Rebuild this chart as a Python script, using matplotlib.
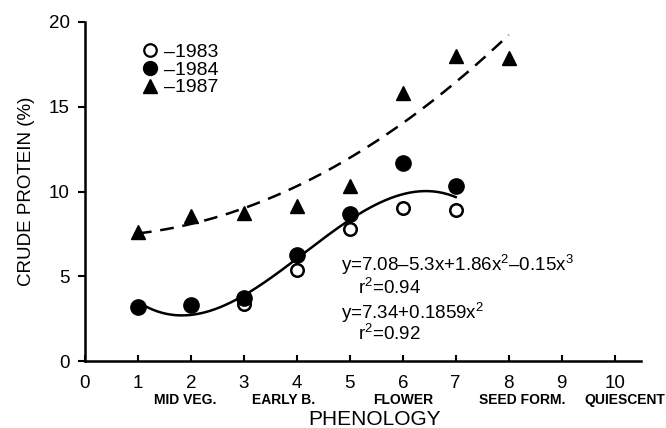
import numpy as np
import matplotlib
matplotlib.use("Agg")
import matplotlib.pyplot as plt
from matplotlib.lines import Line2D

plt.rcParams['font.family'] = ['Liberation Sans', 'DejaVu Sans']
plt.rcParams['mathtext.fontset'] = 'custom'
plt.rcParams['mathtext.rm'] = 'Liberation Sans'

# phenology stage (x) and crude protein (%) per year
x_1983 = [1, 2, 3, 4, 5, 6, 7]
cp_1983 = [3.2, 3.3, 3.35, 5.35, 7.8, 9.05, 8.9]
x_1984 = [1, 2, 3, 4, 5, 6, 7]
cp_1984 = [3.2, 3.3, 3.7, 6.25, 8.7, 11.7, 10.3]
x_1987 = [1, 2, 3, 4, 5, 6, 7, 8]
cp_1987 = [7.6, 8.55, 8.75, 9.15, 10.35, 15.8, 18.0, 17.9]

# fitted curves (coefficients printed on the chart)
cubic_coef = [7.08, -5.3, 1.86, -0.15]     # 1983/1984, x = 1..7
quad_coef = [7.34, 0.0, 0.1859]            # 1987, x = 1..8
cubic_range = (1, 7)
quad_range = (1, 8)

stage_pos = [1.9, 3.75, 6.0, 8.25, 10.2]
stage_names = ['MID VEG.', 'EARLY B.', 'FLOWER', 'SEED FORM.', 'QUIESCENT']

fig = plt.figure(figsize=(6.66, 4.28), dpi=100)
ax = fig.add_axes([0.1276, 0.1565, 0.835, 0.7921])

xc = np.linspace(*cubic_range, 200)
ax.plot(xc, np.polynomial.polynomial.polyval(xc, cubic_coef), color='black', lw=1.8)
xq = np.linspace(*quad_range, 200)
ax.plot(xq, np.polynomial.polynomial.polyval(xq, quad_coef), color='black', lw=1.8,
        dashes=(5.5, 3.5))

ax.plot(x_1987, cp_1987, '^', color='black', ms=9.5, ls='none')
ax.plot(x_1983, cp_1983, 'o', mfc='white', mec='black', mew=1.8, ms=9, ls='none')
ax.plot(x_1984, cp_1984, 'o', color='black', ms=11, ls='none')

handles = [
    Line2D([], [], marker='o', mfc='white', mec='black', mew=1.6, ms=9, ls='none'),
    Line2D([], [], marker='o', color='black', ms=10, ls='none'),
    Line2D([], [], marker='^', color='black', ms=10, ls='none'),
]
ax.legend(handles, ['\u20131983', '\u20131984', '\u20131987'], loc='upper left',
          bbox_to_anchor=(0.085, 0.965), frameon=False, fontsize=14,
          handlelength=0.8, handletextpad=0.35, labelspacing=0.0, borderpad=0)

eq_kw = dict(fontsize=13.5, va='center')
ax.text(4.84, 5.7, 'y=7.08\u20135.3x+1.86x$^2$\u20130.15x$^3$', **eq_kw)
ax.text(5.16, 4.35, 'r$^2$=0.94', **eq_kw)
ax.text(4.84, 2.85, 'y=7.34+0.1859x$^2$', **eq_kw)
ax.text(5.16, 1.6, 'r$^2$=0.92', **eq_kw)

ax.set_xlim(0, 10.5)
ax.set_ylim(0, 20)
ax.set_xticks(range(0, 11))
ax.set_yticks([0, 5, 10, 15, 20])
ax.tick_params(axis='x', direction='in', length=4, width=1.5, labelsize=13.5, pad=10)
ax.tick_params(axis='y', direction='out', length=5, width=1.5, labelsize=13.5, pad=6)
for s in ['top', 'right']:
    ax.spines[s].set_visible(False)
for s in ['left', 'bottom']:
    ax.spines[s].set_linewidth(1.8)

for p, name in zip(stage_pos, stage_names):
    ax.text(p, -2.3, name, fontsize=10, fontweight='bold', ha='center', va='center')

ax.set_xlabel('PHENOLOGY', fontsize=15)
ax.xaxis.set_label_coords(0.52, -0.145)
ax.set_ylabel('CRUDE PROTEIN (%)', fontsize=13.5, labelpad=10)

fig.savefig('out.png', dpi=100)
